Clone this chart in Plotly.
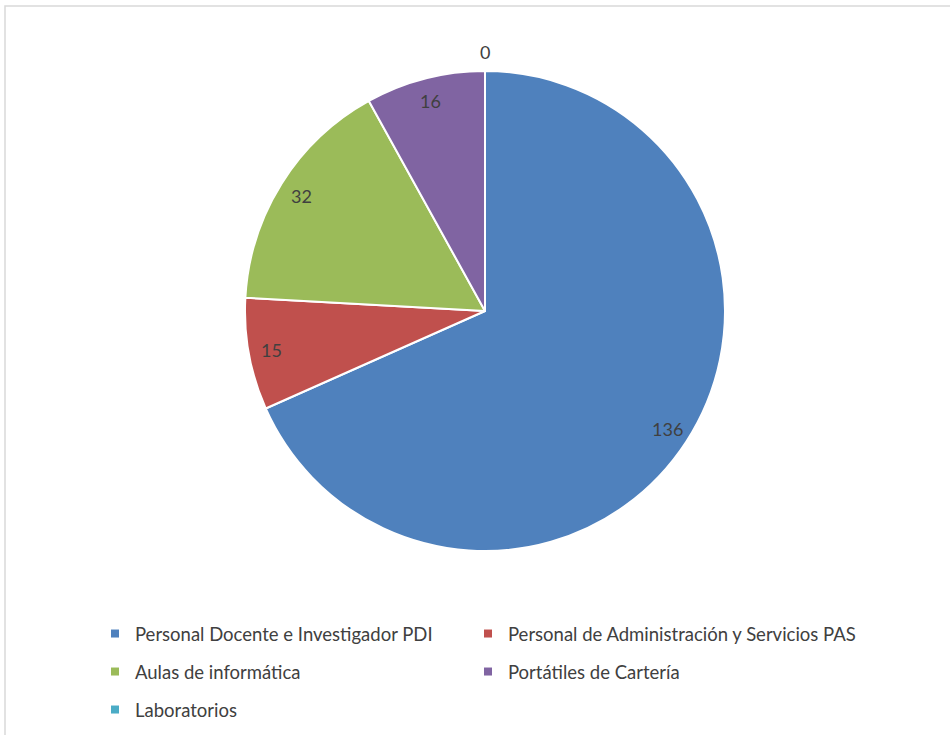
import math
import plotly.graph_objects as go

categories = [
    "Personal Docente e Investigador PDI",
    "Personal de Administración y Servicios PAS",
    "Aulas de informática",
    "Portátiles de Cartería",
    "Laboratorios",
]
values = [136, 15, 32, 16, 0]
colors = ["#4F81BD", "#C0504D", "#9BBB59", "#8064A2", "#4BACC6"]

W, H = 950, 735
cx, cy, R = 485, 311, 240
TXT = "#404040"
FONT = "Lato"


def fx(px):
    return px / W


def fy(py):
    return 1 - py / H


dom_x = [fx(cx - R), fx(cx + R)]
dom_y = [fy(cy + R), fy(cy - R)]

fig = go.Figure()
fig.add_trace(go.Pie(
    labels=categories,
    values=values,
    sort=False,
    direction="clockwise",
    rotation=0,
    marker=dict(colors=colors, line=dict(color="white", width=2)),
    textinfo="none",
    domain=dict(x=dom_x, y=dom_y),
    showlegend=False,
    hoverinfo="label+value",
))

# data labels, placed near the rim of each slice (zero slices just outside)
total = sum(values)
cum = 0
for lab, v in zip(categories, values):
    mid = (cum + v / 2) / total * 2 * math.pi
    rr = 0.905 * R if v > 0 else R + 19
    px = cx + rr * math.sin(mid)
    py = cy - rr * math.cos(mid)
    fig.add_annotation(x=fx(px), y=fy(py), xref="paper", yref="paper",
                       xanchor="center", yanchor="middle",
                       text=str(v), showarrow=False,
                       font=dict(family=FONT, size=18, color=TXT))
    cum += v

# legend entries: three rows of two columns, one legend box per entry
col_x = [95, 468]
row_y = [634, 672, 710]
layout_legends = {}
for i, (lab, col) in enumerate(zip(categories, colors)):
    key = "legend" if i == 0 else f"legend{i + 1}"
    fig.add_trace(go.Scatter(
        x=[None], y=[None], mode="markers", name=lab,
        marker=dict(symbol="square", size=8, color=col),
        legend=key, showlegend=True, hoverinfo="skip",
    ))
    layout_legends[key] = dict(
        orientation="h",
        x=fx(col_x[i % 2]), xanchor="left",
        y=fy(row_y[i // 2]), yanchor="middle",
        font=dict(family=FONT, size=18.5, color=TXT),
        itemwidth=30,
        bgcolor="rgba(0,0,0,0)",
    )

fig.add_shape(type="rect", xref="paper", yref="paper",
              x0=fx(5), y0=-0.05, x1=1.05, y1=fy(6),
              line=dict(color="#D9D9D9", width=1.5), fillcolor="rgba(0,0,0,0)")

fig.update_layout(
    width=W, height=H,
    margin=dict(l=0, r=0, t=0, b=0, autoexpand=False),
    paper_bgcolor="white",
    plot_bgcolor="white",
    xaxis=dict(visible=False),
    yaxis=dict(visible=False),
    **layout_legends,
)

fig.write_html("out.html", config={"displayModeBar": False},
               post_script="document.body.style.margin='0';")
